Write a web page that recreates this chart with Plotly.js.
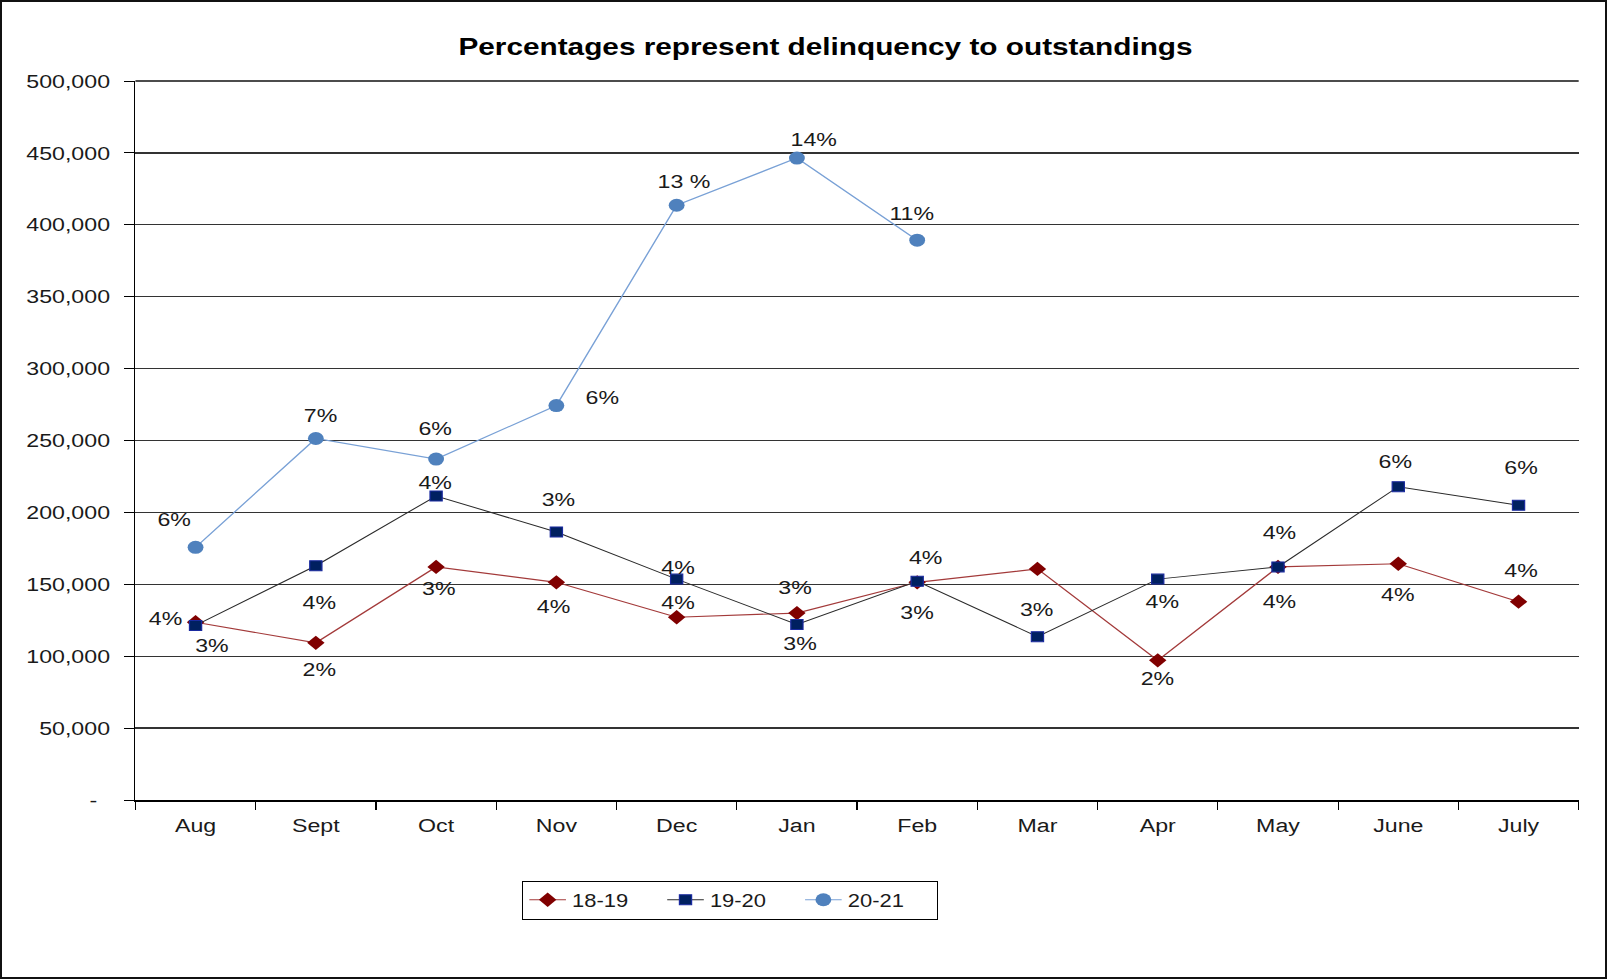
<!DOCTYPE html>
<html>
<head>
<meta charset="utf-8">
<script src="https://cdn.plot.ly/plotly-3.0.1.min.js"></script>
<style>
  html, body { margin: 0; padding: 0; background: #fff; }
  body { width: 1608px; height: 980px; position: relative; overflow: hidden; }
  /* chart is laid out narrow and widened horizontally */
  #chart { position: absolute; left: 0; top: 0; width: 1318px; height: 980px;
           transform: scaleX(1.22); transform-origin: 0 0; }
  #frame { position: absolute; left: 0; top: 0; width: 1607px; height: 979px;
           box-sizing: border-box; border: 2px solid #111; pointer-events: none; }
</style>
</head>
<body>
<div id="chart"></div>
<div id="frame"></div>
<script>
// Months of the fiscal year
const months = ['Aug', 'Sept', 'Oct', 'Nov', 'Dec', 'Jan', 'Feb', 'Mar', 'Apr', 'May', 'June', 'July'];

// Delinquent amounts per fiscal year
const fy1819 = [123600, 109300, 162100, 151400, 127100, 130000, 151400, 160700, 97100, 162100, 164300, 137900];
const fy1920 = [121400, 162900, 211400, 186400, 153600, 122100, 152100, 113600, 153600, 162100, 217900, 205000];
const fy2021 = [175700, 251400, 237100, 274300, 413600, 446400, 389300];

// Delinquency as a share of outstandings
const pct1819 = ['4%', '2%', '3%', '4%', '4%', '3%', '3%', null, '2%', '4%', '4%', '4%'];
const pct1920 = ['3%', '4%', '4%', '3%', '4%', '3%', '4%', '3%', '4%', '4%', '6%', '6%'];
const pct2021 = ['6%', '7%', '6%', '6%', '13 %', '14%', '11%'];

// Y axis ticks
const yTicks = [0, 50000, 100000, 150000, 200000, 250000, 300000, 350000, 400000, 450000, 500000];
const yTickText = ['-\u00a0\u00a0', '50,000', '100,000', '150,000', '200,000', '250,000', '300,000', '350,000', '400,000', '450,000', '500,000'];

const seriesNames = ['18-19', '19-20', '20-21'];

// Label placement [xshift, yshift] in px for each point
const place1819 = [[-24, 4], [3, -27], [3, -22], [-2, -24], [1, 15], [-1, 26], [0, -30], [0, 0], [0, -18], [1, -35], [0, -31], [2, 31]];
const place1920 = [[14, -20], [3, -37], [0, 14], [2, 32], [1, 12], [3, -19], [7, 24], [0, 27], [4, -22], [1, 34], [-2, 25], [2, 38]];
const place2021 = [[-17, 28], [4, 23], [0, 31], [38, 8], [6, 24], [14, 19], [-4, 27]];

const FONT = 'Liberation Sans, Arial, Helvetica, sans-serif';
const TXT = '#1a1a1a';
const GRID = '#333';

const traces = [
  {
    x: months, y: fy1819, name: seriesNames[0], type: 'scatter', mode: 'lines+markers',
    line: { color: '#a33a3a', width: 1.2 },
    marker: { symbol: 'diamond', size: 11, color: '#800000', line: { color: '#800000', width: 0 } }
  },
  {
    x: months, y: fy1920, name: seriesNames[1], type: 'scatter', mode: 'lines+markers',
    line: { color: '#2a2a2a', width: 1 },
    marker: { symbol: 'square', size: 10, color: '#002060', line: { color: '#1a2aa0', width: 1 } }
  },
  {
    x: months.slice(0, fy2021.length), y: fy2021, name: seriesNames[2], type: 'scatter', mode: 'lines+markers',
    line: { color: '#79a1d6', width: 1.2 },
    marker: { symbol: 'circle', size: 13, color: '#4f81bd', line: { width: 0 } }
  }
];

function labels(vals, texts, place) {
  const out = [];
  vals.forEach(function (v, i) {
    if (texts[i] == null) return;
    out.push({
      x: months[i], y: v, xref: 'x', yref: 'y', text: texts[i], showarrow: false,
      xshift: place[i][0], yshift: place[i][1],
      font: { family: FONT, size: 19, color: TXT }
    });
  });
  return out;
}

const annotations = [].concat(
  labels(fy1819, pct1819, place1819),
  labels(fy1920, pct1920, place1920),
  labels(fy2021, pct2021, place2021)
);

const yTop = yTicks[yTicks.length - 1];

const layout = {
  width: 1318, height: 980,
  margin: { l: 111, r: 24, t: 81, b: 180 },
  paper_bgcolor: '#fff', plot_bgcolor: '#fff',
  font: { family: FONT, size: 19, color: TXT },
  title: {
    text: '<b>Percentages represent delinquency to outstandings</b>',
    font: { family: FONT, size: 24.4, color: '#000' },
    x: 0.5134, xanchor: 'center', xref: 'container',
    y: 0.953, yanchor: 'middle', yref: 'container'
  },
  xaxis: {
    type: 'category', categoryorder: 'array', categoryarray: months,
    range: [-0.5, 11.5],
    showline: true, linecolor: '#000', linewidth: 1.5,
    ticks: 'outside', tickson: 'boundaries', ticklen: 8, tickcolor: '#000', tickwidth: 1,
    ticklabelstandoff: 8,
    showgrid: false, zeroline: false,
    tickfont: { family: FONT, size: 19, color: TXT }
  },
  yaxis: {
    range: [0, yTop], tickvals: yTicks, ticktext: yTickText,
    showline: true, linecolor: '#000', linewidth: 1,
    ticks: 'outside', ticklen: 8, tickcolor: '#000', tickwidth: 1,
    ticklabelstandoff: 8,
    showgrid: true, gridcolor: GRID, gridwidth: 1.2, zeroline: false,
    tickfont: { family: FONT, size: 19, color: TXT }
  },
  // top gridline along the upper edge of the plot area (axis maximum)
  shapes: [{
    type: 'line', xref: 'paper', x0: 0, x1: 1, yref: 'paper', y0: 1, y1: 1,
    line: { color: '#111', width: 1.6 }, layer: 'below'
  }],
  legend: {
    orientation: 'h', x: 0.412, xanchor: 'center', y: -0.112, yanchor: 'top',
    bordercolor: '#000', borderwidth: 1, bgcolor: '#fff',
    font: { family: FONT, size: 18, color: TXT },
    entrywidth: 68, entrywidthmode: 'pixels', itemclick: false
  },
  annotations: annotations,
  showlegend: true,
  hovermode: false
};

Plotly.newPlot('chart', traces, layout, { displayModeBar: false, staticPlot: true });
</script>
</body>
</html>
